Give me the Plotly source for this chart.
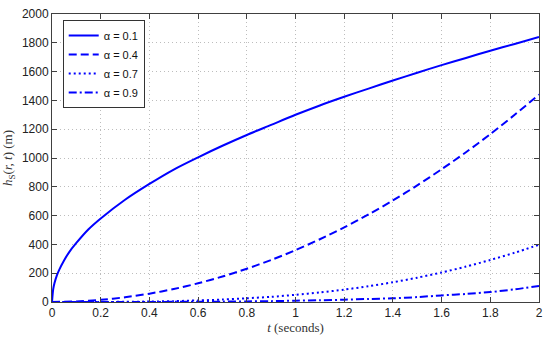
import plotly.graph_objects as go

t01 = [0, 0.005, 0.01, 0.02, 0.03, 0.05, 0.07, 0.1, 0.15, 0.2, 0.3, 0.4, 0.5, 0.6, 0.7, 0.8, 0.9,
       1.0, 1.1, 1.2, 1.3, 1.4, 1.5, 1.6, 1.7, 1.8, 1.9, 2.0]
h01 = [0, 90, 130, 185, 225, 290, 345, 410, 505, 580, 710, 820, 920, 1005, 1085, 1160, 1230,
       1300, 1365, 1425, 1482, 1538, 1592, 1645, 1695, 1745, 1792, 1840]

t = [0, 0.1, 0.2, 0.3, 0.4, 0.5, 0.6, 0.7, 0.8, 0.9, 1.0,
     1.1, 1.2, 1.3, 1.4, 1.5, 1.6, 1.7, 1.8, 1.9, 2.0]
h04 = [0, 4, 15, 33, 58, 90, 130, 177, 231, 292, 360,
       436, 518, 608, 705, 810, 922, 1040, 1166, 1300, 1440]
h07 = [0, 0, 0.4, 1.3, 3.2, 6, 11, 17, 26, 36, 50,
       66, 86, 110, 137, 169, 205, 246, 292, 342, 398]
h09 = [0, 0, 0, 0.2, 0.5, 1, 1.6, 2.5, 4, 6, 9,
       12, 16, 21, 26, 34, 46, 56, 69, 88, 112]

x_ticks = [0, 0.2, 0.4, 0.6, 0.8, 1, 1.2, 1.4, 1.6, 1.8, 2]
x_ticktext = ["0", "0.2", "0.4", "0.6", "0.8", "1", "1.2", "1.4", "1.6", "1.8", "2"]

names = ["α = 0.1", "α = 0.4", "α = 0.7", "α = 0.9"]
dashes = ["solid", "8px,4px", "2px,3px", "8px,3px,2px,3px"]

fig = go.Figure()
series = [(t01, h01), (t, h04), (t, h07), (t, h09)]
for (xs, ys), nm, dsh in zip(series, names, dashes):
    fig.add_trace(go.Scatter(x=xs, y=ys, mode="lines", name=nm,
                             line=dict(color="#0000FF", width=2, dash=dsh, shape="spline",
                                       smoothing=0.8)))

axis_common = dict(showline=True, linecolor="#404040", linewidth=1, mirror="ticks",
                   ticks="inside", ticklen=5, tickcolor="#404040",
                   showgrid=True, gridcolor="#bdbdbd", griddash="1px,3px", gridwidth=1,
                   zeroline=False, tickfont=dict(family="Liberation Sans, Arial", size=12, color="#222"))

fig.update_xaxes(range=[0, 2], tickvals=x_ticks, ticktext=x_ticktext,
                 title=dict(text="<i>t</i> (seconds)", standoff=1,
                            font=dict(family="Liberation Serif, serif", size=13, color="#333")),
                 **axis_common)
fig.update_yaxes(range=[0, 2000], dtick=200,
                 title=dict(text="<i>h</i><sub>S</sub>(<i>r, t</i>) (m)", standoff=6,
                            font=dict(family="Liberation Serif, serif", size=13, color="#333")),
                 **axis_common)

fig.update_layout(width=550, height=338, margin=dict(l=49, r=7, t=12, b=36),
                  paper_bgcolor="white", plot_bgcolor="white",
                  legend=dict(x=0.022, y=0.979, xanchor="left", yanchor="top",
                              bgcolor="white", bordercolor="#333", borderwidth=1,
                              font=dict(family="Liberation Sans, Arial", size=11, color="#111"),
                              tracegroupgap=0, itemwidth=30))

fig.write_html("out.html", config={"displayModeBar": False},
               post_script="document.body.style.margin='0';")
